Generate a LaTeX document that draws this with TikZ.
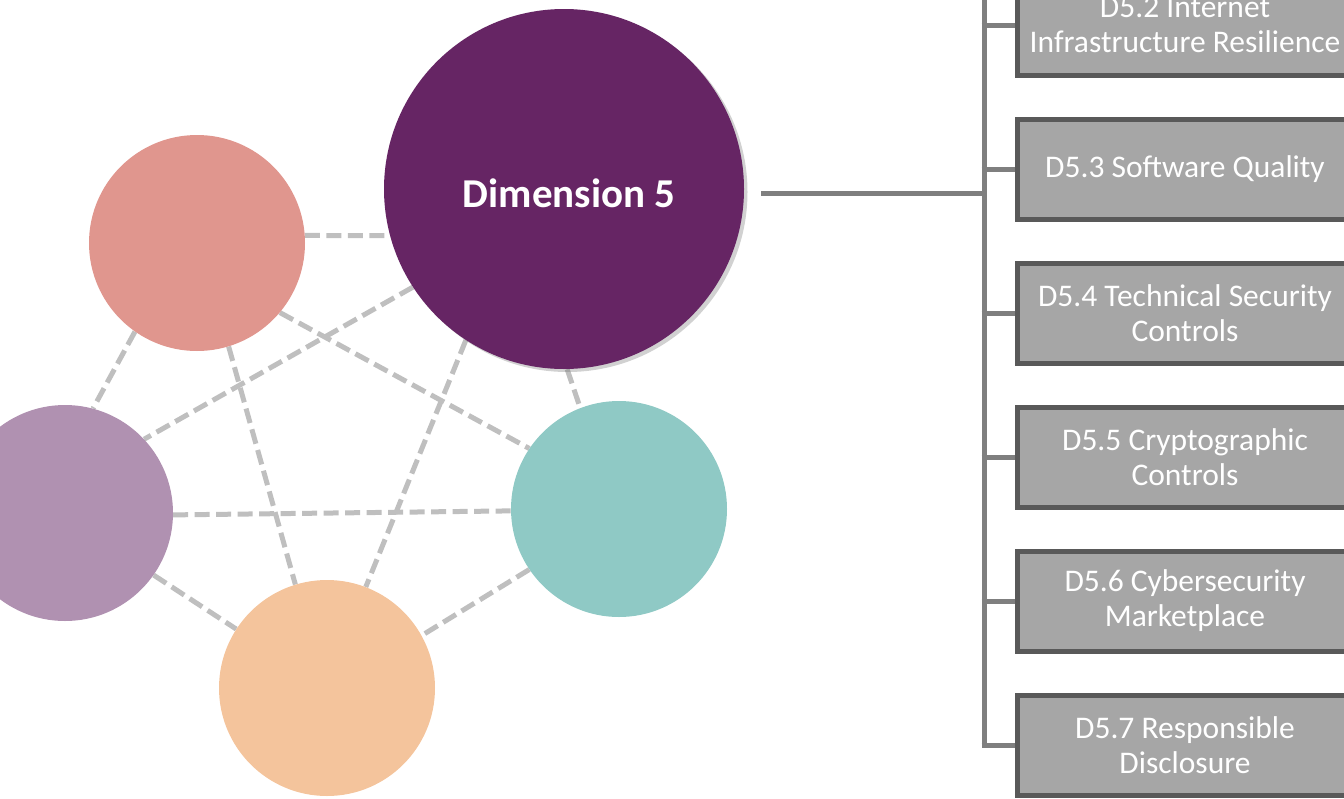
\documentclass[tikz,border=0pt]{standalone}
\usepackage{fontspec}
\setmainfont{Carlito}
\usetikzlibrary{shadows,backgrounds}
\definecolor{dimpurple}{HTML}{662564}
\definecolor{salmon}{HTML}{E0968E}
\definecolor{lilac}{HTML}{B091B1}
\definecolor{teal}{HTML}{8FC9C5}
\definecolor{peach}{HTML}{F4C49C}
\definecolor{linkgray}{HTML}{BFBFBF}
\definecolor{treegray}{HTML}{7F7F7F}
\definecolor{boxfill}{HTML}{A6A6A6}
\definecolor{boxline}{HTML}{595959}
\tikzset{
  bubble/.style={circle, inner sep=0pt, minimum size=216pt},
  link/.style={draw=linkgray, line width=5pt, dash pattern=on 15pt off 6.5pt},
  tree/.style={draw=treegray, line width=5pt},
  subbox/.style={rectangle, fill=boxfill, draw=boxline, line width=5pt,
    minimum width=336pt, minimum height=100pt, inner sep=2pt,
    align=center, text=white, font=\fontsize{31.5}{35}\selectfont},
}
\begin{document}
\begin{tikzpicture}[x=1pt,y=-1pt]
\useasboundingbox (0,0) rectangle (1344,798);
\clip (0,0) rectangle (1344,798);

% the five dimension bubbles
\node[bubble, fill=salmon] (c1) at (197,243) {};
\node[bubble, fill=dimpurple, minimum size=360pt,
  drop shadow={shadow xshift=3.5pt, shadow yshift=-3pt, opacity=0.3, fill=black!60}] (d5) at (564,189) {};
\node[text=white, font=\fontsize{41}{48}\bfseries\selectfont] (d5label) at (d5.center) [xshift=5pt, yshift=-4pt] {Dimension 5};
\node[bubble, fill=lilac] (c4) at (65,513) {};
\node[bubble, fill=teal] (c2) at (619,509) {};
\node[bubble, fill=peach] (c3) at (327,688) {};

% every pair of bubbles is linked
\begin{pgfonlayer}{background}
  \draw[link] (c1.4)   -- (d5.195);
  \draw[link] (c1.235) -- (c4.75);
  \draw[link] (c1.320) -- (c2.146);
  \draw[link] (c1.287) -- (c3.107);
  \draw[link] (d5.213) -- (c4.43);
  \draw[link] (d5.237) -- (c3.69);
  \draw[link] (d5.271) -- (c2.111);
  \draw[link] (c4.359) -- (c2.181);
  \draw[link] (c4.325) -- (c3.147);
  \draw[link] (c2.214) -- (c3.29);
\end{pgfonlayer}

% sub-dimension boxes
\node[subbox] (s2) at (1185,25) {D5.2 Internet\\Infrastructure Resilience};
\node[subbox] (s3) at (1185,169) {D5.3 Software Quality};
\node[subbox] (s4) at (1185,313) {D5.4 Technical Security\\Controls};
\node[subbox] (s5) at (1185,457) {D5.5 Cryptographic\\Controls};
\node[subbox] (s6) at (1185,601) {D5.6 Cybersecurity\\Marketplace};
\node[subbox] (s7) at (1185,745) {D5.7 Responsible\\Disclosure};

% tree connecting the dimension to its boxes
\coordinate (join) at (984,193);
\coordinate (ttop) at (984,-10);
\coordinate (tbot) at (984,745);
\draw[tree] (d5.east |- join) ++(17,0) -- (join);
\draw[tree] (ttop) -- (tbot);
\foreach \s in {s2,s3,s4,s5,s6,s7}
  \draw[tree] ([xshift=-2.5pt]984,0 |- \s.west) -- (\s.west);
\end{tikzpicture}
\end{document}
